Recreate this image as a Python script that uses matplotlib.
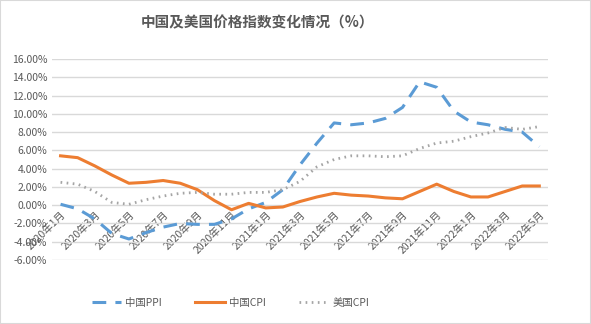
import numpy as np
import matplotlib.pyplot as plt
from matplotlib.patches import Rectangle

plt.rcParams['font.family'] = ['Noto Sans CJK SC', 'DejaVu Sans']

months = [f'{y}年{m}月' for y in (2020, 2021, 2022) for m in range(1, 13)][:29]
china_ppi = [0.1, -0.4, -1.5, -3.1, -3.7, -3.0, -2.4, -2.0, -2.1, -2.1, -1.5, -0.4,
             0.3, 1.7, 4.4, 6.8, 9.0, 8.8, 9.0, 9.5, 10.7, 13.5, 12.9, 10.3,
             9.1, 8.8, 8.3, 8.0, 6.4]
china_cpi = [5.4, 5.2, 4.3, 3.3, 2.4, 2.5, 2.7, 2.4, 1.7, 0.5, -0.5, 0.2,
             -0.3, -0.2, 0.4, 0.9, 1.3, 1.1, 1.0, 0.8, 0.7, 1.5, 2.3, 1.5,
             0.9, 0.9, 1.5, 2.1, 2.1]
us_cpi = [2.5, 2.3, 1.5, 0.3, 0.1, 0.6, 1.0, 1.3, 1.4, 1.2, 1.2, 1.4,
          1.4, 1.7, 2.6, 4.2, 5.0, 5.4, 5.4, 5.3, 5.4, 6.2, 6.8, 7.0,
          7.5, 7.9, 8.5, 8.3, 8.6]

fig = plt.figure(figsize=(5.91, 3.24), dpi=100)
ax = fig.add_axes([0.088, 0.1975, 0.839, 0.6205])
x = np.arange(len(months))

ax.plot(x, china_ppi, color='#5b9bd5', lw=2.2, dashes=(4.5, 3), label='中国PPI')
ax.plot(x, china_cpi, color='#ed7d31', lw=2.2, label='中国CPI')
ax.plot(x, us_cpi, color='#a5a5a5', lw=2.0, dashes=(0.6, 1.6), label='美国CPI')

ax.set_xlim(-0.5, len(months) - 0.5)
ax.set_ylim(-6, 16)
ax.set_yticks(np.arange(-6, 17, 2))
ax.set_yticklabels([f'{v:.2f}%' for v in np.arange(-6, 17, 2)])
ax.grid(axis='y', color='#d9d9d9', lw=1)
ax.set_axisbelow(True)
for s in ax.spines.values():
    s.set_visible(False)
ax.spines['bottom'].set_position(('data', 0))

ax.set_xticks(x[::2])
ax.set_xticklabels(months[::2], rotation=45, ha='right', rotation_mode='anchor')
ax.tick_params(axis='both', length=0, labelsize=7.5, colors='#595959')
ax.tick_params(axis='x', pad=3)

fig.text(0.436, 0.932, '中国及美国价格指数变化情况（%）', ha='center', va='center',
         fontsize=10.5, fontweight='bold', color='#595959')
ax.legend(loc='center', bbox_to_anchor=(0.36, -0.214), ncol=3, frameon=False,
          fontsize=7.5, handlelength=2.8, handletextpad=0.4, columnspacing=3.2,
          labelcolor='#595959')

fig.patches.append(Rectangle((0, 0), 1, 1, transform=fig.transFigure, fill=False,
                             edgecolor='#d9d9d9', lw=1.5))
fig.savefig('out.png', dpi=100)
